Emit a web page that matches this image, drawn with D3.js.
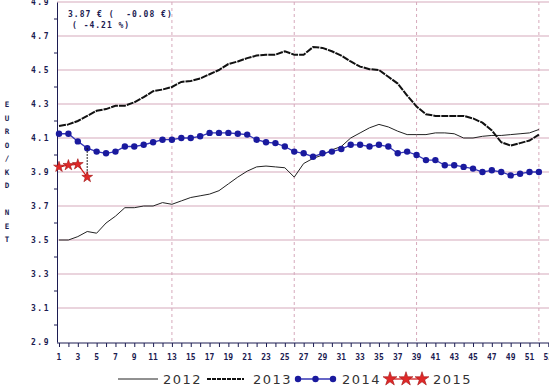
<!DOCTYPE html>
<html>
<head>
    <meta charset="utf-8">
    <script src="https://d3js.org/d3.v7.min.js"></script>
    <style>
        body { margin: 0; background: #fff; }
        text { font-family: "DejaVu Sans Mono", monospace; }
    </style>
</head>

<body></body>

<script>
    // weekly prices, week 1 .. 52
    var v2012 = [3.50, 3.50, 3.52, 3.55, 3.54, 3.60, 3.64, 3.69, 3.69, 3.70, 3.70, 3.72, 3.71,
                 3.73, 3.75, 3.76, 3.77, 3.79, 3.83, 3.87, 3.905, 3.93, 3.935, 3.93, 3.925, 3.87,
                 3.95, 3.98, 4.00, 4.03, 4.05, 4.10, 4.13, 4.16, 4.18, 4.165, 4.14, 4.12, 4.12,
                 4.12, 4.13, 4.13, 4.125, 4.10, 4.10, 4.11, 4.115, 4.115, 4.12, 4.125, 4.13, 4.15];
    var v2013 = [4.17, 4.18, 4.20, 4.23, 4.26, 4.27, 4.29, 4.29, 4.31, 4.34, 4.375, 4.385, 4.40,
                 4.43, 4.435, 4.45, 4.475, 4.50, 4.535, 4.55, 4.57, 4.585, 4.59, 4.59, 4.61, 4.59,
                 4.59, 4.635, 4.63, 4.61, 4.585, 4.55, 4.52, 4.505, 4.50, 4.46, 4.42, 4.35, 4.285,
                 4.24, 4.23, 4.23, 4.23, 4.23, 4.215, 4.19, 4.145, 4.075, 4.055, 4.07, 4.085, 4.12];
    var v2014 = [4.125, 4.125, 4.08, 4.04, 4.02, 4.01, 4.02, 4.05, 4.05, 4.06, 4.075, 4.09, 4.09,
                 4.10, 4.10, 4.11, 4.13, 4.13, 4.13, 4.125, 4.12, 4.09, 4.075, 4.07, 4.05, 4.02,
                 4.01, 3.99, 4.01, 4.02, 4.035, 4.06, 4.06, 4.05, 4.06, 4.05, 4.01, 4.02, 4.00,
                 3.97, 3.97, 3.94, 3.94, 3.93, 3.92, 3.90, 3.91, 3.90, 3.88, 3.89, 3.90, 3.90];
    var v2015 = [3.93, 3.94, 3.945, 3.87];

    var xTicks = [1, 3, 5, 7, 9, 11, 13, 15, 17, 19, 21, 23, 25, 27, 29, 31, 33, 35, 37, 39, 41, 43, 45, 47, 49, 51, 53];
    var yTicks = [2.9, 3.1, 3.3, 3.5, 3.7, 3.9, 4.1, 4.3, 4.5, 4.7, 4.9];
    var yMinor = [3.0, 3.2, 3.4, 3.6, 3.8, 4.0, 4.2, 4.4, 4.6, 4.8];
    var quarterWeeks = [13, 26, 39, 52];
    var yTitle = "EURO/KD NET";
    var note1 = "3.87 € (  -0.08 €)";
    var note2 = "( -4.21 %)";

    var W = 549, H = 388;
    var svg = d3.select("body").append("svg")
        .attr("width", W)
        .attr("height", H);

    var x = d3.scaleLinear().domain([1, 53]).range([59, 548.3]);
    var y = d3.scaleLinear().domain([2.9, 4.9]).range([342, 2]);
    var axisX = 57;
    var gridColor = "#d6a9bb";
    var ink = "#1c1c52";

    // horizontal grid
    svg.selectAll(".hgrid").data(yTicks.filter(function(d) { return d > 2.9; }))
        .enter().append("line")
        .attr("x1", axisX).attr("x2", W)
        .attr("y1", function(d) { return y(d); })
        .attr("y2", function(d) { return y(d); })
        .attr("stroke", gridColor).attr("stroke-width", 1.2);

    // quarter dashed lines
    svg.selectAll(".vgrid").data(quarterWeeks)
        .enter().append("line")
        .attr("x1", function(d) { return x(d); })
        .attr("x2", function(d) { return x(d); })
        .attr("y1", y(4.9)).attr("y2", y(2.9))
        .attr("stroke", gridColor).attr("stroke-dasharray", "3,3");

    // y axis
    var yAxis = d3.axisLeft(y).tickValues(yTicks).tickSize(0).tickPadding(7)
        .tickFormat(d3.format(".1f"));
    var gy = svg.append("g").attr("transform", "translate(" + axisX + ",0)").call(yAxis);
    gy.select(".domain").attr("stroke", ink);
    gy.selectAll("text").attr("fill", ink).style("font-size", "8px")
        .style("font-weight", "bold").style("letter-spacing", "1.5px");
    svg.selectAll(".yminor").data(yMinor)
        .enter().append("line")
        .attr("x1", axisX - 3).attr("x2", axisX)
        .attr("y1", function(d) { return y(d); })
        .attr("y2", function(d) { return y(d); })
        .attr("stroke", ink);

    // x axis
    var weeks = v2014.map(function(d, i) { return i + 1; }).concat([53]);
    var xAxis = d3.axisBottom(x).tickValues(weeks).tickSize(4).tickFormat("");
    var gx = svg.append("g").attr("transform", "translate(0," + (y(2.9) + 1) + ")").call(xAxis);
    gx.select(".domain").remove();
    gx.selectAll("line").attr("stroke", ink);
    gx.append("line").attr("x1", axisX).attr("x2", W).attr("stroke", ink);
    svg.selectAll(".xlab").data(xTicks)
        .enter().append("text")
        .attr("x", function(d) { return x(d); })
        .attr("y", 360)
        .attr("text-anchor", "middle")
        .attr("fill", ink)
        .style("font-size", "8px").style("font-weight", "bold")
        .text(function(d) { return d; });

    // y title, one letter per row
    svg.selectAll(".ytitle").data(yTitle.split(""))
        .enter().append("text")
        .attr("x", 7)
        .attr("y", function(d, i) { return 107 + i * 13.5; })
        .attr("text-anchor", "middle")
        .attr("fill", ink)
        .style("font-size", "7.5px").style("font-weight", "bold")
        .text(function(d) { return d; });

    // annotation
    svg.append("text").attr("x", 68).attr("y", 17).attr("fill", ink)
        .style("font-size", "8px").style("font-weight", "bold").style("letter-spacing", "1px")
        .attr("xml:space", "preserve").text(note1);
    svg.append("text").attr("x", 72).attr("y", 28).attr("fill", ink)
        .style("font-size", "8px").style("font-weight", "bold").style("letter-spacing", "1px")
        .attr("xml:space", "preserve").text(note2);

    var line = d3.line()
        .x(function(d, i) { return x(i + 1); })
        .y(function(d) { return y(d); });

    svg.append("path").attr("d", line(v2012))
        .attr("fill", "none").attr("stroke", "#222").attr("stroke-width", 1);

    svg.append("path").attr("d", line(v2013))
        .attr("fill", "none").attr("stroke", "#111").attr("stroke-width", 2)
        .attr("stroke-dasharray", "7,1");

    svg.append("path").attr("d", line(v2014))
        .attr("fill", "none").attr("stroke", "#3535b5").attr("stroke-width", 1.3);
    svg.selectAll(".p2014").data(v2014)
        .enter().append("circle")
        .attr("cx", function(d, i) { return x(i + 1); })
        .attr("cy", function(d) { return y(d); })
        .attr("r", 3.2)
        .attr("fill", "#1a1a9e");

    // drop line at the current week
    var cur = v2015.length - 1;
    svg.append("line")
        .attr("x1", x(cur + 1)).attr("x2", x(cur + 1))
        .attr("y1", y(v2014[cur])).attr("y2", y(v2015[cur]))
        .attr("stroke", "#111").attr("stroke-width", 1.2).attr("stroke-dasharray", "1.5,1.5");

    var star = d3.symbol().type(d3.symbolStar);
    svg.append("path").attr("d", line(v2015))
        .attr("fill", "none").attr("stroke", "#d42020").attr("stroke-width", 1.3);
    svg.selectAll(".p2015").data(v2015)
        .enter().append("path")
        .attr("d", star.size(36)())
        .attr("transform", function(d, i) { return "translate(" + x(i + 1) + "," + y(d) + ")"; })
        .attr("fill", "#e02828").attr("stroke", "#a01010").attr("stroke-width", 0.6);

    // legend
    var ly = 379;
    var lg = svg.append("g");
    function legText(tx, label) {
        lg.append("text").attr("x", tx).attr("y", ly + 5).attr("fill", "#333")
            .style("font-family", "'DejaVu Sans', sans-serif")
            .style("font-size", "13px").style("letter-spacing", "1.5px").text(label);
    }
    lg.append("line").attr("x1", 118).attr("x2", 158).attr("y1", ly).attr("y2", ly)
        .attr("stroke", "#222").attr("stroke-width", 1);
    legText(163, "2012");
    lg.append("line").attr("x1", 207).attr("x2", 244).attr("y1", ly).attr("y2", ly)
        .attr("stroke", "#111").attr("stroke-width", 2).attr("stroke-dasharray", "4,1");
    legText(253, "2013");
    lg.append("line").attr("x1", 298).attr("x2", 333).attr("y1", ly).attr("y2", ly)
        .attr("stroke", "#3535b5").attr("stroke-width", 1.3);
    [298, 315.5, 333].forEach(function(cx) {
        lg.append("circle").attr("cx", cx).attr("cy", ly).attr("r", 3.2).attr("fill", "#1a1a9e");
    });
    legText(342, "2014");
    lg.append("line").attr("x1", 390).attr("x2", 422).attr("y1", ly).attr("y2", ly)
        .attr("stroke", "#d42020").attr("stroke-width", 1.3);
    [390, 406, 422].forEach(function(cx) {
        lg.append("path").attr("d", star.size(60)())
            .attr("transform", "translate(" + cx + "," + ly + ")")
            .attr("fill", "#e02828").attr("stroke", "#a01010").attr("stroke-width", 0.6);
    });
    legText(433, "2015");
</script>
</html>
